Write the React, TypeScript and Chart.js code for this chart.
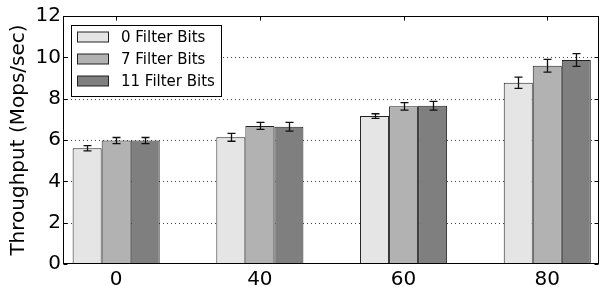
import React, { useEffect, useRef } from 'react';
import { Chart, registerables } from 'chart.js';

Chart.register(...registerables);

const categories = ['0', '40', '60', '80'];
const seriesLabels = ['0 Filter Bits', '7 Filter Bits', '11 Filter Bits'];
const seriesColors = ['#e5e5e5', '#b2b2b2', '#7f7f7f'];
const bits0 = [5.6, 6.13, 7.16, 8.77];
const bits0Err = [0.13, 0.19, 0.11, 0.27];
const bits7 = [5.97, 6.68, 7.63, 9.59];
const bits7Err = [0.15, 0.17, 0.18, 0.31];
const bits11 = [5.97, 6.64, 7.66, 9.87];
const bits11Err = [0.15, 0.21, 0.21, 0.31];
const yTicks = [0, 2, 4, 6, 8, 10, 12];
const yTitle = 'Throughput (Mops/sec)';

const FONT = '"DejaVu Sans", sans-serif';
const seriesValues = [bits0, bits7, bits11];
const seriesErrors = [bits0Err, bits7Err, bits11Err];

const decorPlugin = {
  id: 'decor',
  beforeDatasetsDraw(chart: any) {
    const { ctx, chartArea: a, scales } = chart;
    const y = scales.y;
    ctx.save();
    ctx.strokeStyle = '#444';
    ctx.lineWidth = 1;
    ctx.setLineDash([1, 3]);
    for (const v of yTicks) {
      if (v === yTicks[0] || v === yTicks[yTicks.length - 1]) continue;
      const py = Math.round(y.getPixelForValue(v)) + 0.5;
      ctx.beginPath();
      ctx.moveTo(a.left, py);
      ctx.lineTo(a.right, py);
      ctx.stroke();
    }
    ctx.restore();
  },
  afterDatasetsDraw(chart: any) {
    const { ctx, chartArea: a, scales } = chart;
    const y = scales.y;
    const x = scales.x;
    ctx.save();
    // error bars
    ctx.strokeStyle = '#111';
    ctx.lineWidth = 1.3;
    chart.data.datasets.forEach((ds: any, i: number) => {
      const meta = chart.getDatasetMeta(i);
      meta.data.forEach((el: any, j: number) => {
        const v = seriesValues[i][j];
        const e = seriesErrors[i][j];
        const px = Math.round(el.x) + 0.5;
        const t = y.getPixelForValue(v + e);
        const b = y.getPixelForValue(v - e);
        ctx.beginPath();
        ctx.moveTo(px, t);
        ctx.lineTo(px, b);
        ctx.moveTo(px - 4, t);
        ctx.lineTo(px + 4, t);
        ctx.moveTo(px - 4, b);
        ctx.lineTo(px + 4, b);
        ctx.stroke();
      });
    });
    // frame
    ctx.strokeStyle = '#000';
    ctx.lineWidth = 1;
    const L = Math.round(a.left) + 0.5;
    const R = Math.round(a.right) - 0.5;
    const T = Math.round(a.top) + 0.5;
    const B = Math.round(a.bottom) - 0.5;
    ctx.strokeRect(L, T, R - L, B - T);
    // inward ticks
    ctx.beginPath();
    for (const v of yTicks) {
      const py = Math.round(y.getPixelForValue(v)) + 0.5;
      ctx.moveTo(L, py);
      ctx.lineTo(L + 4, py);
      ctx.moveTo(R, py);
      ctx.lineTo(R - 4, py);
    }
    categories.forEach((_, k) => {
      const px = Math.round(x.getPixelForValue(k)) + 0.5;
      ctx.moveTo(px, T);
      ctx.lineTo(px, T + 4);
    });
    ctx.stroke();
    // legend
    const lx = 71.5, ly = 25.5, lw = 150, lh = 71;
    ctx.fillStyle = '#fff';
    ctx.fillRect(lx, ly, lw, lh);
    ctx.strokeStyle = '#000';
    ctx.strokeRect(lx, ly, lw, lh);
    ctx.font = `15px ${FONT}`;
    ctx.textBaseline = 'middle';
    ctx.textAlign = 'left';
    chart.data.datasets.forEach((ds: any, i: number) => {
      const cy = 37 + i * 22;
      ctx.fillStyle = ds.backgroundColor;
      ctx.fillRect(77.5, cy - 5, 31, 10);
      ctx.strokeStyle = '#222';
      ctx.strokeRect(77.5, cy - 5, 31, 10);
      ctx.fillStyle = '#000';
      ctx.fillText(ds.label, 121, cy + 1);
    });
    ctx.restore();
  },
};

export default function App() {
  const ref = useRef<HTMLCanvasElement | null>(null);
  useEffect(() => {
    if (!ref.current) return;
    const datasets = seriesLabels.map((label, i) => ({
      label,
      data: seriesValues[i].map((v, k) => ({ x: k, y: v })),
      backgroundColor: seriesColors[i],
      borderColor: '#222',
      borderWidth: 1,
      categoryPercentage: 0.606,
      barPercentage: 1,
    }));
    const chart = new Chart(ref.current, {
      type: 'bar',
      data: { datasets },
      plugins: [decorPlugin],
      options: {
        responsive: false,
        animation: false,
        layout: { padding: { top: 16, right: 1, left: 0, bottom: 0 } },
        plugins: { legend: { display: false }, tooltip: { enabled: false } },
        scales: {
          x: {
            type: 'linear',
            min: -0.37,
            max: 3.36,
            offset: false,
            grid: { display: false, drawTicks: false },
            border: { display: false },
            afterBuildTicks: (s: any) => {
              s.ticks = categories.map((_, k) => ({ value: k }));
            },
            afterFit: (s: any) => {
              s.height = 23;
            },
            ticks: {
              autoSkip: false,
              maxRotation: 0,
              padding: 4,
              color: '#000',
              font: { family: FONT, size: 20 },
              callback: (v: any) => categories[Math.round(Number(v))] ?? '',
            },
          },
          y: {
            type: 'linear',
            min: yTicks[0],
            max: yTicks[yTicks.length - 1],
            grid: { display: false, drawTicks: false },
            border: { display: false },
            afterBuildTicks: (s: any) => {
              s.ticks = yTicks.map((v) => ({ value: v }));
            },
            afterFit: (s: any) => {
              s.width = 63;
            },
            ticks: {
              padding: 2,
              color: '#000',
              font: { family: FONT, size: 20 },
            },
            title: {
              display: true,
              text: yTitle,
              color: '#000',
              font: { family: FONT, size: 20 },
              padding: { top: 7, bottom: 0 },
            },
          },
        },
      },
    });
    return () => chart.destroy();
  }, []);
  return (
    <div style={{ position: 'absolute', left: 0, top: 0, width: 600, height: 287, background: '#fff' }}>
      <canvas ref={ref} width={600} height={287} style={{ display: 'block' }} />
    </div>
  );
}
